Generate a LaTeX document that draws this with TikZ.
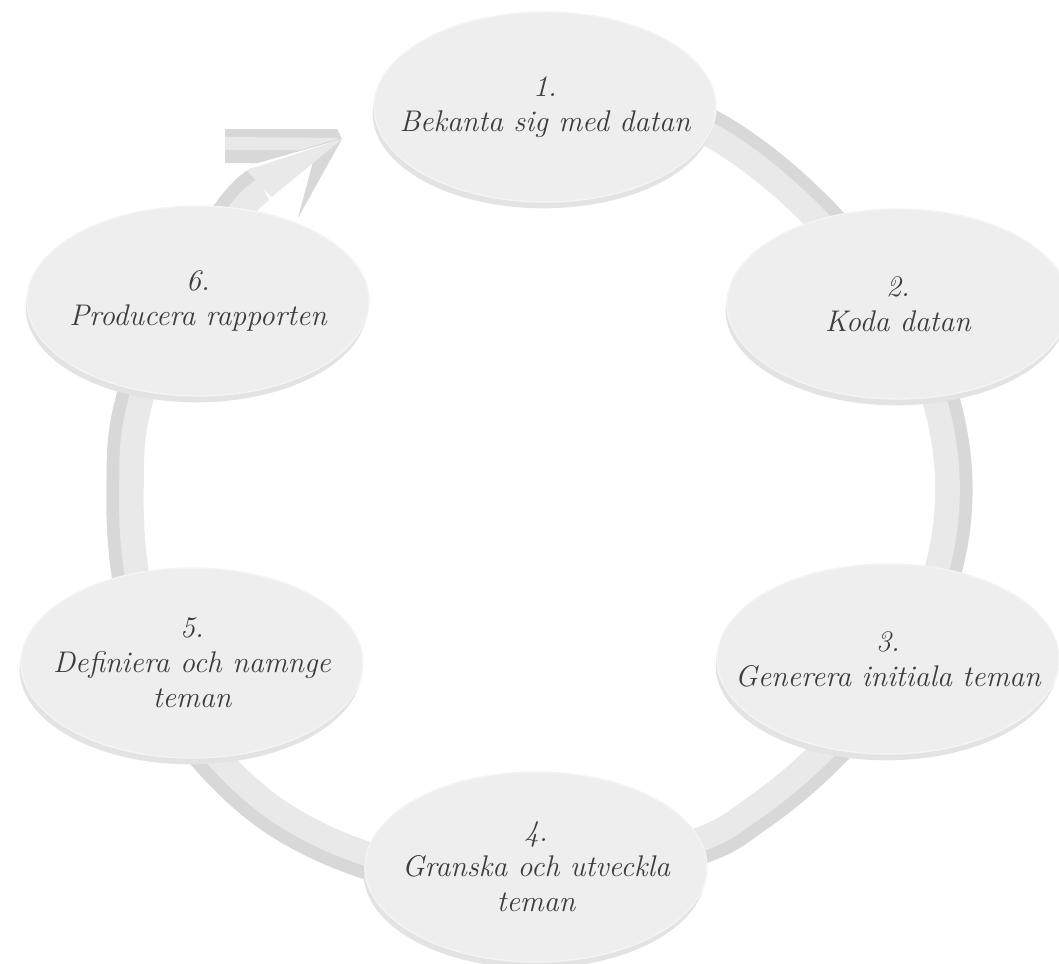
\documentclass[tikz,border=0pt]{standalone}
\usepackage{fontspec}
\usetikzlibrary{shapes.geometric}
\tikzset{ %圆盘样式
    disc/.style={ellipse, minimum width=6.84cm, minimum height=3.8cm, inner sep=0pt,
        fill=discfill, draw=discedge, line width=0.8pt,
        preaction={fill=discrim, transform canvas={xshift=-0.8pt, yshift=-3.6pt}}},
    steptext/.style={align=center, text=txtgrey, font=\fontsize{17}{20}\selectfont\itshape},
}
\definecolor{discfill}{HTML}{EDEEED}
\definecolor{discedge}{HTML}{F3F4F3}
\definecolor{discrim}{HTML}{E2E3E2}
\definecolor{ringlt}{HTML}{E9E9E9}
\definecolor{ringdk}{HTML}{D8D8D8}
\definecolor{txtgrey}{HTML}{3C3C3C}

\begin{document}
\begin{tikzpicture}[x=0.02cm, y=-0.02cm]
			\useasboundingbox (0,0) rectangle (1059,964);
			\clip (0,0) rectangle (1059,964);
			\foreach \s/\w/\c in {1/20pt/ringdk, 0.982/14pt/ringlt}{
				\draw[\c, line width=\w, scale around={\s:(540,485)}] plot[smooth, tension=0.6] coordinates {(470,91) (609,93) (714,129) (816,209) (902,316) (940,393) (955,485) (942,578) (898,675) (824,759) (755,816) (694,849) (540,890) (470,884) (365,861) (278,820) (211,761) (169,699) (141,630) (127,558) (124,485) (130,413) (164,310) (233,209) (259,184)};
			}
			%\draw[red] (540,485) circle (415);
			\fill[ringdk] (225,129) -- (337,129) -- (342,139) -- (258,163) -- (225,163) -- cycle;
			\fill[ringlt] (225,137) -- (340,138) -- (300,150) -- (225,150) -- cycle;
			\fill[ringdk] (342,139) -- (298,218) -- (313,162) -- cycle;
			\fill[ringlt] (246.4,170.2) -- (342,139) -- (271.6,197.2) -- cycle;
			\node[disc, label={[steptext]center:{1.\\Bekanta sig med datan}}] (bekanta) at (545,107) {};
			\node[disc, label={[steptext]center:{2.\\Koda datan}}] (koda) at (898,304) {};
			\node[disc, label={[steptext]center:{3.\\Generera initiala teman}}] (generera) at (888,659) {};
			\node[disc, label={[steptext]center:{4.\\Granska och utveckla\\teman}}] (granska) at (536,867) {};
			\node[disc, label={[steptext]center:{5.\\Definiera och namnge\\teman}}] (definiera) at (192,663) {};
			\node[disc, label={[steptext]center:{6.\\Producera rapporten}}] (producera) at (198,301) {};
		\end{tikzpicture}
\end{document}
